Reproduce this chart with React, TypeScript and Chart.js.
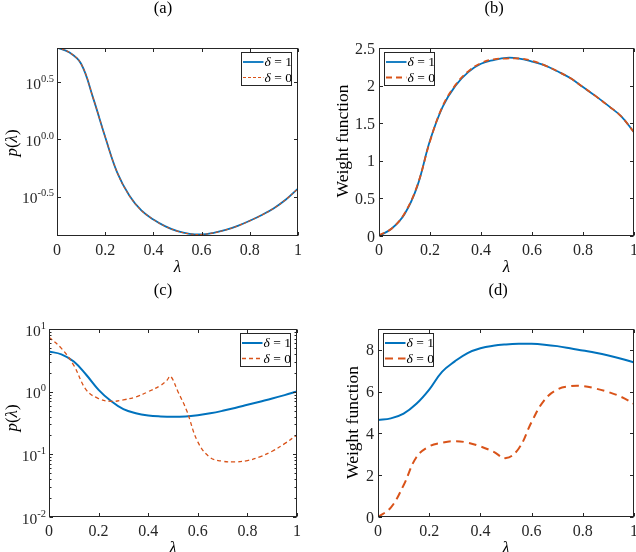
import React, { useEffect, useRef } from "react";
import { Chart, registerables } from "chart.js";

Chart.register(...registerables);

// ---------------- DATA ----------------
const LAMBDA_GRID = [0, 0.05, 0.1, 0.15, 0.2, 0.25, 0.3, 0.35, 0.4, 0.45, 0.5, 0.55, 0.6, 0.65, 0.7, 0.75, 0.8, 0.85, 0.9, 0.95, 1];
const X_TICKS = [0, 0.2, 0.4, 0.6, 0.8, 1];
const X_TICK_LABELS = ["0", "0.2", "0.4", "0.6", "0.8", "1"];

// (a) p(lambda), log axis
const A_P_DELTA1 = [6.31, 5.75, 4.57, 2.29, 1.05, 0.513, 0.324, 0.24, 0.2, 0.174, 0.158, 0.15, 0.148, 0.153, 0.162, 0.176, 0.195, 0.219, 0.251, 0.299, 0.372];
const A_P_DELTA0 = [6.31, 5.75, 4.57, 2.29, 1.05, 0.513, 0.324, 0.24, 0.2, 0.174, 0.158, 0.15, 0.148, 0.153, 0.162, 0.176, 0.195, 0.219, 0.251, 0.299, 0.372];
const A_Y_TICK_EXP = [-0.5, 0, 0.5];
const A_Y_TICK_LABELS = ["-0.5", "0.0", "0.5"];

// (b) weight function
const B_W_DELTA1 = [0.0, 0.1, 0.29, 0.66, 1.27, 1.72, 2.0, 2.18, 2.29, 2.34, 2.37, 2.36, 2.32, 2.27, 2.19, 2.1, 1.98, 1.86, 1.73, 1.59, 1.38];
const B_W_DELTA0 = [0.01, 0.1, 0.3, 0.67, 1.26, 1.73, 2.01, 2.19, 2.3, 2.35, 2.36, 2.36, 2.33, 2.27, 2.19, 2.1, 1.98, 1.86, 1.73, 1.59, 1.38];
const B_Y_TICKS = [0, 0.5, 1, 1.5, 2, 2.5];
const B_Y_TICK_LABELS = ["0", "0.5", "1", "1.5", "2", "2.5"];

// (c) p(lambda), log axis
const C_P_DELTA1 = [4.37, 3.94, 3.02, 1.86, 1.07, 0.708, 0.525, 0.452, 0.417, 0.403, 0.398, 0.403, 0.422, 0.452, 0.495, 0.55, 0.617, 0.692, 0.776, 0.881, 1.01];
const C_LAMBDA_DELTA0 = [0, 0.05, 0.1, 0.15, 0.2, 0.25, 0.3, 0.35, 0.4, 0.45, 0.475, 0.49, 0.52, 0.555, 0.6, 0.65, 0.7, 0.75, 0.8, 0.85, 0.9, 0.95, 1];
const C_P_DELTA0 = [7.41, 4.9, 2.63, 1.07, 0.776, 0.7, 0.741, 0.822, 1.0, 1.26, 1.51, 1.76, 1.0, 0.501, 0.158, 0.0891, 0.0776, 0.0759, 0.0794, 0.0912, 0.112, 0.148, 0.204];
const C_Y_TICK_EXP = [-2, -1, 0, 1];
const C_Y_TICK_LABELS = ["-2", "-1", "0", "1"];

// (d) weight function
const D_W_DELTA1 = [4.64, 4.72, 4.95, 5.42, 6.1, 6.95, 7.45, 7.85, 8.08, 8.2, 8.26, 8.29, 8.29, 8.25, 8.18, 8.08, 7.97, 7.86, 7.73, 7.58, 7.4];
const D_W_DELTA0 = [0.0, 0.45, 1.52, 2.86, 3.38, 3.55, 3.63, 3.56, 3.38, 3.13, 2.82, 3.28, 4.55, 5.6, 6.1, 6.26, 6.27, 6.15, 5.98, 5.75, 5.42];
const D_Y_TICKS = [0, 2, 4, 6, 8];
const D_Y_TICK_LABELS = ["0", "2", "4", "6", "8"];

const LEGEND_VALUES = ["1", "0"]; // δ = value
const PANEL_TITLES = ["(a)", "(b)", "(c)", "(d)"];
const Y_LABEL_P = [{ t: "p", i: true }, { t: "(" }, { t: "λ", i: true }, { t: ")" }];
const Y_LABEL_W = [{ t: "Weight function" }];
const X_LABEL = [{ t: "λ", i: true }];

// ---------------- STYLE ----------------
const W = 636;
const H = 552;
const SERIF = '"Liberation Serif", "Times New Roman", serif';
const BLUE = "#0072BD";
const RED = "#D95319";
const AXIS = "#262626";

type Piece = { t: string; i?: boolean };
type Series = { xs: number[]; ys: number[]; color: string; width: number; dash: number[]; order: number };
type Panel = {
  title: string;
  titleX: number;
  titleY: number;
  area: { left: number; right: number; top: number; bottom: number };
  yType: "linear" | "logarithmic";
  yMin: number;
  yMax: number;
  yTicks: number[];
  yTickLabels: string[];
  pow: boolean;
  minor: boolean;
  yLabel: Piece[];
  yLabelSize: number;
  yLabelX: number;
  yLabelY: number;
  legendSide: "left" | "right";
  series: Series[];
};

const PANELS: Panel[] = [
  {
    title: PANEL_TITLES[0], titleX: 163, titleY: 9,
    area: { left: 57, right: 298, top: 48, bottom: 236 },
    yType: "logarithmic", yMin: Math.pow(10, -0.843), yMax: Math.pow(10, 0.797),
    yTicks: A_Y_TICK_EXP.map((e) => Math.pow(10, e)), yTickLabels: A_Y_TICK_LABELS, pow: true, minor: false,
    yLabel: Y_LABEL_P, yLabelSize: 17, yLabelX: 12.5, yLabelY: 143,
    legendSide: "right",
    series: [
      { xs: LAMBDA_GRID, ys: A_P_DELTA1, color: BLUE, width: 1.8, dash: [], order: 1 },
      { xs: LAMBDA_GRID, ys: A_P_DELTA0, color: RED, width: 1.1, dash: [3, 2], order: 0 },
    ],
  },
  {
    title: PANEL_TITLES[1], titleX: 494, titleY: 9,
    area: { left: 379, right: 634, top: 48, bottom: 236 },
    yType: "linear", yMin: 0, yMax: 2.5,
    yTicks: B_Y_TICKS, yTickLabels: B_Y_TICK_LABELS, pow: false, minor: false,
    yLabel: Y_LABEL_W, yLabelSize: 17.5, yLabelX: 343.5, yLabelY: 141,
    legendSide: "left",
    series: [
      { xs: LAMBDA_GRID, ys: B_W_DELTA1, color: BLUE, width: 1.8, dash: [], order: 1 },
      { xs: LAMBDA_GRID, ys: B_W_DELTA0, color: RED, width: 1.8, dash: [6, 4], order: 0 },
    ],
  },
  {
    title: PANEL_TITLES[2], titleX: 163, titleY: 291,
    area: { left: 49, right: 297, top: 329, bottom: 517 },
    yType: "logarithmic", yMin: 0.01, yMax: 10,
    yTicks: C_Y_TICK_EXP.map((e) => Math.pow(10, e)), yTickLabels: C_Y_TICK_LABELS, pow: true, minor: true,
    yLabel: Y_LABEL_P, yLabelSize: 17, yLabelX: 12.5, yLabelY: 418,
    legendSide: "right",
    series: [
      { xs: LAMBDA_GRID, ys: C_P_DELTA1, color: BLUE, width: 2, dash: [], order: 1 },
      { xs: C_LAMBDA_DELTA0, ys: C_P_DELTA0, color: RED, width: 1.3, dash: [4, 3], order: 0 },
    ],
  },
  {
    title: PANEL_TITLES[3], titleX: 498, titleY: 291,
    area: { left: 378, right: 634, top: 329, bottom: 517 },
    yType: "linear", yMin: 0, yMax: 9,
    yTicks: D_Y_TICKS, yTickLabels: D_Y_TICK_LABELS, pow: false, minor: false,
    yLabel: Y_LABEL_W, yLabelSize: 17.5, yLabelX: 353.5, yLabelY: 422.5,
    legendSide: "left",
    series: [
      { xs: LAMBDA_GRID, ys: D_W_DELTA1, color: BLUE, width: 2, dash: [], order: 1 },
      { xs: LAMBDA_GRID, ys: D_W_DELTA0, color: RED, width: 2, dash: [8, 5], order: 0 },
    ],
  },
];

function fnt(size: number, italic?: boolean) {
  return `${italic ? "italic " : ""}${size}px ${SERIF}`;
}

function drawPieces(ctx: CanvasRenderingContext2D, pieces: Piece[], size: number, x: number, y: number, align: "left" | "center") {
  const widths = pieces.map((p) => {
    ctx.font = fnt(size, p.i);
    return ctx.measureText(p.t).width;
  });
  const total = widths.reduce((a, b) => a + b, 0);
  let cx = align === "center" ? x - total / 2 : x;
  ctx.textAlign = "left";
  pieces.forEach((p, k) => {
    ctx.font = fnt(size, p.i);
    ctx.fillText(p.t, cx, y);
    cx += widths[k];
  });
}

function makeDecor(panel: Panel) {
  return {
    id: "decor",
    afterDraw(chart: any) {
      const ctx: CanvasRenderingContext2D = chart.ctx;
      const xs = chart.scales.x;
      const ys = chart.scales.y;
      const { left, right, top, bottom } = chart.chartArea;
      const L = Math.round(left) + 0.5;
      const R = Math.round(right) - 0.5;
      const T = Math.round(top) + 0.5;
      const B = Math.round(bottom) - 0.5;
      ctx.save();
      ctx.strokeStyle = AXIS;
      ctx.lineWidth = 1;
      ctx.setLineDash([]);
      // ticks
      const TL = 3.5;
      ctx.beginPath();
      X_TICKS.forEach((v) => {
        const px = Math.round(xs.getPixelForValue(v)) + 0.5;
        ctx.moveTo(px, B);
        ctx.lineTo(px, B - TL);
        ctx.moveTo(px, T);
        ctx.lineTo(px, T + TL);
      });
      panel.yTicks.forEach((v) => {
        const py = Math.round(ys.getPixelForValue(v)) + 0.5;
        ctx.moveTo(L, py);
        ctx.lineTo(L + TL, py);
        ctx.moveTo(R, py);
        ctx.lineTo(R - TL, py);
      });
      if (panel.minor) {
        for (let e = -2; e < 1; e++) {
          for (let k = 2; k <= 9; k++) {
            const py = Math.round(ys.getPixelForValue(k * Math.pow(10, e))) + 0.5;
            ctx.moveTo(L, py);
            ctx.lineTo(L + 2, py);
            ctx.moveTo(R, py);
            ctx.lineTo(R - 2, py);
          }
        }
      }
      ctx.stroke();
      // box
      ctx.strokeRect(L, T, R - L, B - T);

      // x tick labels
      ctx.fillStyle = AXIS;
      ctx.textBaseline = "alphabetic";
      ctx.textAlign = "center";
      ctx.font = fnt(16);
      X_TICKS.forEach((v, i) => {
        ctx.fillText(X_TICK_LABELS[i], xs.getPixelForValue(v), bottom + 19);
      });
      // y tick labels
      panel.yTicks.forEach((v, i) => {
        const py = ys.getPixelForValue(v);
        if (panel.pow) {
          const exp = panel.yTickLabels[i];
          ctx.font = fnt(10.5);
          const ew = ctx.measureText(exp).width;
          ctx.font = fnt(15.5);
          const bw = ctx.measureText("10").width;
          const x0 = left - 3 - ew - bw;
          ctx.textAlign = "left";
          ctx.fillText("10", x0, py + 6.5);
          ctx.font = fnt(10.5);
          ctx.fillText(exp, x0 + bw, py - 0.5);
        } else {
          ctx.textAlign = "right";
          ctx.font = fnt(16);
          ctx.fillText(panel.yTickLabels[i], left - 4, py + 5.5);
        }
      });
      // x label
      ctx.fillStyle = "#000";
      ctx.textBaseline = "alphabetic";
      drawPieces(ctx, X_LABEL, 17, (left + right) / 2, bottom + 35.5, "center");
      // y label
      ctx.save();
      ctx.translate(panel.yLabelX, panel.yLabelY);
      ctx.rotate(-Math.PI / 2);
      ctx.textBaseline = "middle";
      drawPieces(ctx, panel.yLabel, panel.yLabelSize, 0, 0, "center");
      ctx.restore();
      // title
      ctx.textBaseline = "middle";
      ctx.textAlign = "center";
      ctx.font = fnt(16.5);
      ctx.fillText(panel.title, panel.titleX, panel.titleY);

      // legend
      const bw = 51;
      const bh = 34;
      const bx = panel.legendSide === "right" ? Math.round(right) - 6 - bw : Math.round(left) + 5;
      const by = Math.round(top) + 4;
      ctx.fillStyle = "#fff";
      ctx.fillRect(bx, by, bw, bh);
      ctx.strokeStyle = AXIS;
      ctx.lineWidth = 1;
      ctx.strokeRect(bx + 0.5, by + 0.5, bw - 1, bh - 1);
      panel.series.forEach((s, i) => {
        const ry = by + 10 + i * 15.5;
        ctx.strokeStyle = s.color;
        ctx.lineWidth = s.width;
        ctx.setLineDash(s.dash);
        ctx.beginPath();
        ctx.moveTo(bx + 2, ry);
        ctx.lineTo(bx + 22.5, ry);
        ctx.stroke();
        ctx.setLineDash([]);
        ctx.fillStyle = "#000";
        ctx.textBaseline = "middle";
        drawPieces(ctx, [{ t: "δ", i: true }, { t: " = " + LEGEND_VALUES[i] }], 13.5, bx + 23.5, ry + 0.5, "left");
      });
      ctx.restore();
    },
  };
}

function PanelChart({ panel }: { panel: Panel }) {
  const ref = useRef<HTMLCanvasElement | null>(null);
  useEffect(() => {
    if (!ref.current) return;
    const a = panel.area;
    const chart = new Chart(ref.current, {
      type: "line",
      data: {
        datasets: panel.series.map((s) => ({
          data: s.xs.map((x, i) => ({ x, y: s.ys[i] })),
          borderColor: s.color,
          borderWidth: s.width,
          borderDash: s.dash,
          tension: 0.4,
          pointRadius: 0,
          fill: false,
          order: s.order,
        })),
      },
      options: {
        animation: false,
        responsive: false,
        devicePixelRatio: 1,
        events: [],
        layout: { padding: { left: a.left, top: a.top, right: W - a.right, bottom: H - a.bottom } },
        plugins: { legend: { display: false }, tooltip: { enabled: false }, title: { display: false } },
        scales: {
          x: { type: "linear", min: 0, max: 1, display: false },
          y: { type: panel.yType, min: panel.yMin, max: panel.yMax, display: false },
        },
      },
      plugins: [makeDecor(panel)],
    } as any);
    return () => chart.destroy();
  }, [panel]);
  return (
    <canvas
      ref={ref}
      width={W}
      height={H}
      style={{ position: "absolute", left: 0, top: 0, width: W, height: H }}
    />
  );
}

export default function App() {
  return (
    <div style={{ position: "absolute", left: 0, top: 0, width: W, height: H, background: "#fff", overflow: "hidden" }}>
      {PANELS.map((p, i) => (
        <PanelChart key={i} panel={p} />
      ))}
    </div>
  );
}
